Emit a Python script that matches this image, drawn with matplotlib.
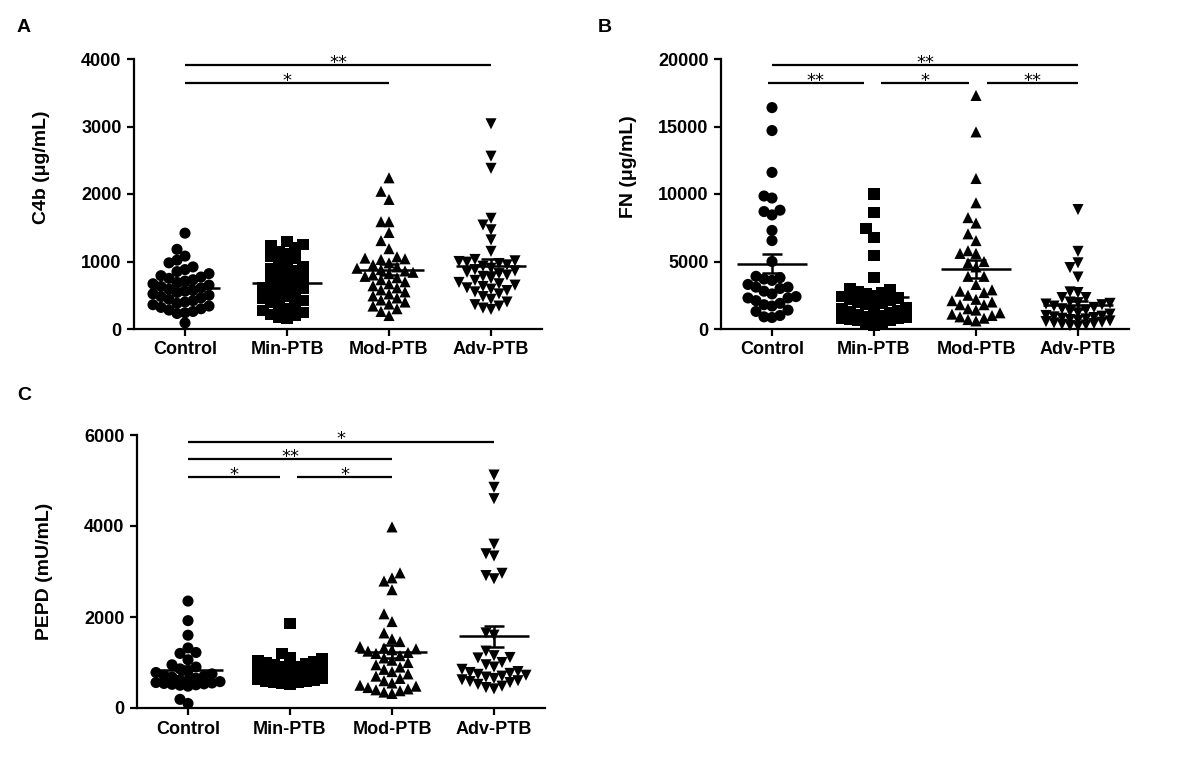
import numpy as np
import matplotlib
matplotlib.use("Agg")
import matplotlib.pyplot as plt

plt.rcParams['font.family'] = ['Liberation Sans', 'DejaVu Sans']
plt.rcParams['font.weight'] = 'bold'

categories = ["Control", "Min-PTB", "Mod-PTB", "Adv-PTB"]
markers = ['o', 's', '^', 'v']

# ---- Panel A: C4b (ug/mL)
c4b_control = [1420, 1180, 1080, 1020, 980, 90,
               920, 880, 850, 820, 790, 770, 750, 730, 710, 690, 670, 650, 630, 610,
               590, 570, 560, 540, 520, 500, 480, 460, 440, 420, 400, 380, 360, 340,
               320, 300, 280, 260, 240, 230]
c4b_min = [1300, 1250, 1230, 1200, 1150, 1120, 1080, 1050, 1000, 960, 930, 900, 860,
           830, 800, 770, 740, 700, 680, 650, 620, 600, 570, 540, 510, 480, 450, 420,
           400, 370, 340, 310, 280, 250, 220, 200, 170, 150]
c4b_mod = [2240, 2040, 1920, 1590, 1590, 1430, 1310, 1190, 1070, 1050, 1040, 1030,
           980, 950, 920, 900, 880, 860, 840, 820, 800, 780, 760, 730, 700, 670, 640,
           610, 580, 550, 520, 490, 460, 430, 400, 370, 340, 300, 260, 200]
c4b_adv = [3040, 2560, 2380, 1640, 1540, 1470, 1320, 1150,
           1030, 1010, 1000, 990, 970, 950, 930, 900, 880, 860, 840, 820, 800, 780,
           750, 720, 690, 670, 650, 630, 610, 590, 570, 550, 520, 480, 440, 400, 360,
           340, 310, 290]

# ---- Panel B: FN (ug/mL)
fn_control = [16400, 14700, 11600, 9850, 9700, 8800, 8700, 8450, 7300, 6550, 5000,
              3900, 3800, 3700, 3600, 3300, 3100, 3100, 3000, 2800, 2600, 2400, 2300,
              2300, 2100, 1900, 1800, 1700, 1400, 1300, 1000, 900, 850]
fn_min = [10000, 8600, 7450, 6750, 5450, 3800,
          3000, 2900, 2800, 2700, 2600, 2500, 2400, 2300, 2200, 2100, 2000, 1900, 1800,
          1700, 1600, 1500, 1400, 1300, 1200, 1100, 1000, 950, 900, 850, 800, 750, 700,
          650, 600, 500, 400, 300]
fn_mod = [17300, 14600, 11150, 9350, 8250, 7850, 7050, 6550, 5800, 5600, 5600,
          5000, 4900, 4600, 3900, 3900, 3300, 2900, 2800, 2700, 2500, 2200, 2100, 2000,
          1800, 1800, 1500, 1400, 1200, 1100, 1000, 900, 800, 700, 600]
fn_adv = [8850, 5750, 4900, 4550, 3850, 2700, 2750, 2330, 2330,
          2000, 1950, 1900, 1850, 1800, 1700, 1600, 1500, 1400, 1300, 1200, 1100, 1000,
          950, 900, 850, 800, 750, 700, 650, 600, 550, 500, 450, 400, 350, 300, 250, 200]

# ---- Panel C: PEPD (mU/mL)
pepd_control = [2350, 1920, 1600, 1320, 1220, 1200, 1060, 190, 100,
                950, 900, 860, 820, 780, 750, 720, 700, 680, 650, 620, 600, 580, 560,
                550, 540, 530, 520, 510, 500, 480]
pepd_min = [1850, 1200,
            1100, 1080, 1050, 1020, 1000, 980, 950, 920, 900, 880, 850, 820, 800, 780,
            750, 720, 700, 680, 660, 640, 620, 600, 590, 580, 570, 560, 540, 520]
pepd_mod = [3980, 2970, 2860, 2790, 2600, 2070, 1900, 1650, 1520, 1460,
            1350, 1320, 1300, 1280, 1250, 1220, 1200, 1150, 1100, 1050, 1000, 950, 900,
            850, 800, 750, 700, 650, 600, 550, 500, 480, 450, 420, 400, 380, 350, 320]
pepd_adv = [5120, 4850, 4600, 3600, 3390, 3340, 2960, 2910, 2840, 1650, 1600,
            1250, 1150, 1110, 1100, 1000, 950, 900, 850, 800, 780, 760, 740, 720, 700,
            680, 650, 620, 600, 580, 560, 520, 480, 450, 420]

W, H = 1200, 761
fig = plt.figure(figsize=(W / 100, H / 100), dpi=100)


def add_axes_px(left, top, right, bottom):
    return fig.add_axes([left / W, 1 - bottom / H, (right - left) / W, (bottom - top) / H])


def swarm_offsets(ax, values, diam_px=10.0, step_px=8.0, max_k=4):
    p0 = ax.transData.transform((0, 0))
    p1 = ax.transData.transform((1, 1))
    sx = p1[0] - p0[0]
    sy = p1[1] - p0[1]
    vals = np.asarray(values, float)
    order = np.argsort(vals)
    slots = {}
    offs = np.zeros(len(vals))
    ks = [0]
    for k in range(1, max_k + 1):
        ks += [-k, k]
    for idx in order:
        ypx = vals[idx] * sy
        chosen = None
        bestgap, bestk = -1, 0
        for k in ks:
            ys = slots.get(k, [])
            gap = min([abs(ypx - y) for y in ys], default=1e9)
            if gap >= diam_px:
                chosen = k
                break
            if gap > bestgap:
                bestgap, bestk = gap, k
        if chosen is None:
            chosen = bestk
        slots.setdefault(chosen, []).append(ypx)
        offs[idx] = chosen * step_px / sx
    return offs


def style_axes(ax, ymax, yticks, ylabel, label_y):
    ax.set_xlim(-0.5, 3.5)
    ax.set_ylim(0, ymax)
    for s in ['top', 'right']:
        ax.spines[s].set_visible(False)
    for s in ['left', 'bottom']:
        ax.spines[s].set_linewidth(1.6)
    ax.set_xticks(range(4))
    ax.set_xticklabels(categories, fontsize=13, fontweight='bold')
    ax.set_yticks(yticks)
    ax.set_yticklabels([str(t) for t in yticks], fontsize=13, fontweight='bold')
    ax.tick_params(direction='out', length=5, width=1.6, pad=4)
    ax.set_ylabel(ylabel, fontsize=14, fontweight='bold')
    ax.yaxis.set_label_coords(-0.205, label_y)


def draw_groups(ax, groups, msize):
    for i, (vals, mk) in enumerate(zip(groups, markers)):
        v = np.asarray(vals, float)
        offs = swarm_offsets(ax, v)
        ax.scatter(i + offs, v, marker=mk, s=msize ** 2, color='black',
                   edgecolors='none', zorder=3, clip_on=False)
        m = v.mean()
        sem = v.std(ddof=1) / np.sqrt(len(v))
        ax.hlines(m, i - 0.34, i + 0.34, color='black', lw=1.8, zorder=4)
        ax.vlines(i, m - sem, m + sem, color='black', lw=1.8, zorder=4)
        ax.hlines([m - sem, m + sem], i - 0.1, i + 0.1, color='black', lw=1.8, zorder=4)


def sig(ax, x1, x2, y, text):
    ax.plot([x1, x2], [y, y], color='black', lw=1.6, clip_on=False,
            solid_capstyle='butt')
    ax.annotate(text, xy=((x1 + x2) / 2, y), xytext=(0, -2.0),
                textcoords='offset points', ha='center', va='baseline',
                fontsize=13, fontweight='normal', family='DejaVu Sans',
                annotation_clip=False)


axA = add_axes_px(134, 59, 542, 329)
axB = add_axes_px(721, 59, 1129, 329)
axC = add_axes_px(137, 435, 545, 708)

style_axes(axA, 4000, [0, 1000, 2000, 3000, 4000], 'C4b (\u03bcg/mL)', 0.6)
style_axes(axB, 20000, [0, 5000, 10000, 15000, 20000], 'FN (\u03bcg/mL)', 0.6)
style_axes(axC, 6000, [0, 2000, 4000, 6000], 'PEPD (mU/mL)', 0.5)

draw_groups(axA, [c4b_control, c4b_min, c4b_mod, c4b_adv], 8)
draw_groups(axB, [fn_control, fn_min, fn_mod, fn_adv], 8)
draw_groups(axC, [pepd_control, pepd_min, pepd_mod, pepd_adv], 8)

# significance bars
sig(axA, 0, 3, 3910, '**')
sig(axA, 0, 2, 3645, '*')

sig(axB, 0, 3, 19560, '**')
sig(axB, -0.04, 0.9, 18235, '**')
sig(axB, 1.07, 1.93, 18235, '*')
sig(axB, 2.11, 3.0, 18235, '**')

sig(axC, 0, 3, 5853, '*')
sig(axC, 0, 2, 5471, '**')
sig(axC, 0, 0.9, 5067, '*')
sig(axC, 1.07, 2.0, 5067, '*')

fig.text(24 / W, 1 - 28 / H, 'A', fontsize=14, fontweight='bold', ha='center', va='center')
fig.text(605 / W, 1 - 28 / H, 'B', fontsize=14, fontweight='bold', ha='center', va='center')
fig.text(24 / W, 1 - 395 / H, 'C', fontsize=14, fontweight='bold', ha='center', va='center')

fig.savefig('out.png', dpi=100)
